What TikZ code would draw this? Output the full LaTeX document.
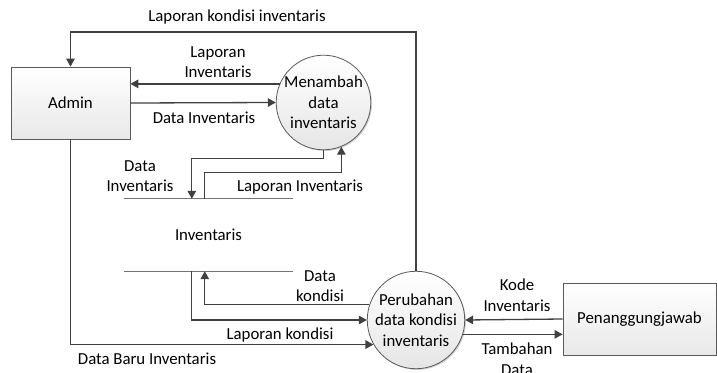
\documentclass[tikz,border=0pt]{standalone}
\usepackage{fontspec}
\setmainfont{Carlito}
\usetikzlibrary{arrows.meta,shadows,calc}
\definecolor{ink}{HTML}{404040}
\definecolor{edge}{HTML}{5A5A5A}
\begin{document}
\begin{tikzpicture}[x=1pt,y=-1pt,
  font=\fontsize{16.8}{20.5}\selectfont,
  entity/.style={draw=edge,line width=0.8pt,top color=white,bottom color=black!9,
    drop shadow={shadow xshift=1.2pt,shadow yshift=-1.2pt,opacity=0.3,fill=black!60},
    minimum height=72pt,inner sep=0pt},
  process/.style={circle,draw=edge,line width=0.8pt,top color=white,bottom color=black!10,
    drop shadow={shadow xshift=1.2pt,shadow yshift=-1.2pt,opacity=0.3,fill=black!60},
    inner sep=0pt,align=center},
  flow/.style={draw=ink,line width=1.3pt,-{Triangle[length=8pt,width=8.5pt]}},
  lbl/.style={align=center,inner sep=0pt,text=black}]
\useasboundingbox (0,0) rectangle (717,372);

% external entities
\node[entity,minimum width=119pt] (admin) at (70.5,103) {Admin};
\node[entity,minimum width=153pt] (pj) at (639.5,319) {Penanggungjawab};

% processes
\node[process,minimum size=94pt] (menambah) at (323.5,102.5) {Menambah\\data\\inventaris};
\node[process,minimum size=96pt] (perubahan) at (416,320) {Perubahan\\data kondisi\\inventaris};

% data store
\node[minimum width=169pt,minimum height=72pt,inner sep=0pt] (store) at (208.5,235) {Inventaris};
\draw[black!55,line width=1pt] (store.north west) -- (store.north east);
\draw[black!55,line width=1pt] (store.south west) -- (store.south east);
\coordinate (storeInA) at ($(store.north west)+(68,0)$);
\coordinate (storeOutA) at ($(store.north west)+(81,0)$);
\coordinate (storeOutB) at ($(store.south west)+(68,0)$);
\coordinate (storeInB) at ($(store.south west)+(81,0)$);
\coordinate (topRail) at (70.5,32);

% flows
\draw[flow] (perubahan.north) |- (topRail) -- (admin.north);
\node[lbl] (l1) at (237,17) {Laporan kondisi inventaris};

\draw[flow] (menambah.157) -- (menambah.157 -| admin.east);
\node[lbl] (l2) at (218,62) {Laporan\\Inventaris};

\draw[flow] (admin.east) -- (menambah.west);
\node[lbl] (l3) at (204,118) {Data Inventaris};

\draw[flow] (menambah.south) -- ++(0,8.5) -| (storeInA);
\node[lbl] (l4) at (140,176) {Data\\Inventaris};

\draw[flow] (storeOutA) -- ++(0,-26) -| (menambah.-68);
\node[lbl] (l5) at (300,187) {Laporan Inventaris};

\draw[flow] (perubahan.162) -| (storeInB);
\node[lbl] (l6) at (320,286) {Data\\kondisi};

\draw[flow] (storeOutB) |- (perubahan.west);
\node[lbl] (l7) at (280,335) {Laporan kondisi};

\draw[flow] (admin.south) |- (perubahan.210);
\node[lbl] (l8) at (147,359) {Data Baru Inventaris};

\draw[flow] (pj.west) -- (perubahan.east);
\node[lbl] (l9) at (517,295) {Kode\\Inventaris};

\draw[flow] (perubahan.-17) -- (perubahan.-17 -| pj.west);
\node[lbl] (l10) at (517,359) {Tambahan\\Data};
\end{tikzpicture}
\end{document}
